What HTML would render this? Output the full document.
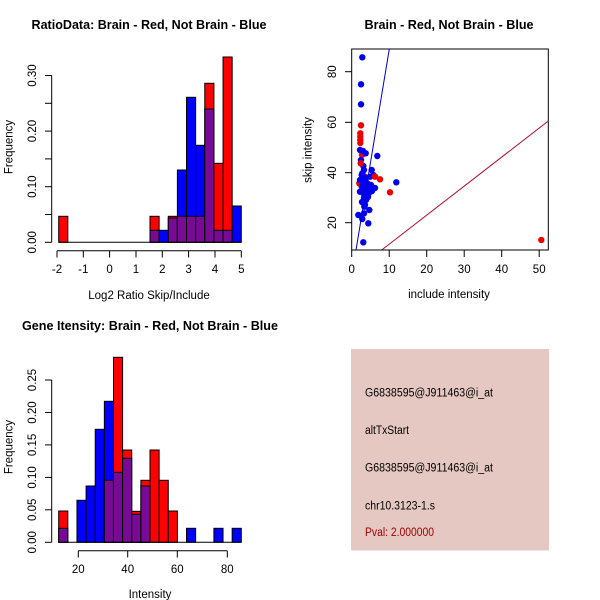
<!DOCTYPE html>
<html><head><meta charset="utf-8"><style>
html,body{margin:0;padding:0;background:#fff}
svg{display:block}
text{font-family:"Liberation Sans",Arial,sans-serif;fill:#000}
.t{font-weight:bold;font-size:13px}
.k{font-size:11.5px}
.l{font-size:11.5px}
</style></head><body>
<svg width="600" height="600" viewBox="0 0 600 600" xmlns="http://www.w3.org/2000/svg">
<rect width="600" height="600" fill="#fff"/>

<!-- ========== Top-left histogram ========== -->
<text class="t" x="149" y="29" text-anchor="middle" textLength="235" lengthAdjust="spacingAndGlyphs">RatioData: Brain - Red, Not Brain - Blue</text>
<g stroke="#000" stroke-width="1">
<!-- bin0 -->
<rect x="58.7" y="216.3" width="9.13" height="26" fill="#ff0000"/>
<!-- bin10 -->
<rect x="150" y="216.3" width="9.13" height="26" fill="#ff0000"/>
<rect x="150" y="230.3" width="9.13" height="12" fill="#780a96"/>
<!-- bin11 -->
<rect x="159.13" y="230.3" width="9.13" height="12" fill="#0000ff"/>
<!-- bin12 -->
<rect x="168.26" y="216.3" width="9.13" height="26" fill="#ff0000"/>
<rect x="168.26" y="218" width="9.13" height="24.3" fill="#780a96"/>
<!-- bin13 -->
<rect x="177.39" y="170" width="9.13" height="72.3" fill="#0000ff"/>
<rect x="177.39" y="216.3" width="9.13" height="26" fill="#780a96"/>
<!-- bin14 -->
<rect x="186.52" y="97.3" width="9.13" height="145" fill="#0000ff"/>
<rect x="186.52" y="216.3" width="9.13" height="26" fill="#780a96"/>
<!-- bin15 -->
<rect x="195.65" y="145.3" width="9.13" height="97" fill="#0000ff"/>
<rect x="195.65" y="216.3" width="9.13" height="26" fill="#780a96"/>
<!-- bin16 -->
<rect x="204.78" y="83.3" width="9.13" height="159" fill="#ff0000"/>
<rect x="204.78" y="109" width="9.13" height="133.3" fill="#780a96"/>
<!-- bin17 -->
<rect x="213.91" y="163.3" width="9.13" height="79" fill="#ff0000"/>
<rect x="213.91" y="230.3" width="9.13" height="12" fill="#780a96"/>
<!-- bin18 -->
<rect x="223.04" y="57" width="9.13" height="185.3" fill="#ff0000"/>
<rect x="223.04" y="230.3" width="9.13" height="12" fill="#780a96"/>
<!-- bin19 -->
<rect x="232.17" y="206" width="9.13" height="36.3" fill="#0000ff"/>
</g>
<line x1="58.7" y1="242.3" x2="241.3" y2="242.3" stroke="#000"/>
<g stroke="#000" stroke-width="1" fill="none">
<line x1="51.7" y1="242.3" x2="51.7" y2="75.5"/>
<line x1="45" y1="242.3" x2="51.7" y2="242.3"/>
<line x1="45" y1="214.5" x2="51.7" y2="214.5"/>
<line x1="45" y1="186.7" x2="51.7" y2="186.7"/>
<line x1="45" y1="158.9" x2="51.7" y2="158.9"/>
<line x1="45" y1="131.1" x2="51.7" y2="131.1"/>
<line x1="45" y1="103.3" x2="51.7" y2="103.3"/>
<line x1="45" y1="75.5" x2="51.7" y2="75.5"/>
<line x1="57" y1="250.7" x2="241.3" y2="250.7"/>
<line x1="57" y1="250.7" x2="57" y2="257.5"/>
<line x1="83.3" y1="250.7" x2="83.3" y2="257.5"/>
<line x1="109.6" y1="250.7" x2="109.6" y2="257.5"/>
<line x1="136" y1="250.7" x2="136" y2="257.5"/>
<line x1="162.3" y1="250.7" x2="162.3" y2="257.5"/>
<line x1="188.6" y1="250.7" x2="188.6" y2="257.5"/>
<line x1="215" y1="250.7" x2="215" y2="257.5"/>
<line x1="241.3" y1="250.7" x2="241.3" y2="257.5"/>
</g>
<g class="k" text-anchor="middle">
<text x="57" y="273">-2</text><text x="83.3" y="273">-1</text><text x="109.6" y="273">0</text>
<text x="136" y="273">1</text><text x="162.3" y="273">2</text><text x="188.6" y="273">3</text>
<text x="215" y="273">4</text><text x="241.3" y="273">5</text>
</g>
<g class="k" text-anchor="middle">
<text transform="translate(36,242.3) rotate(-90)">0.00</text>
<text transform="translate(36,186.7) rotate(-90)">0.10</text>
<text transform="translate(36,131.1) rotate(-90)">0.20</text>
<text transform="translate(36,75.5) rotate(-90)">0.30</text>
</g>
<text class="l" text-anchor="middle" x="149" y="299">Log2 Ratio Skip/Include</text>
<text class="l" text-anchor="middle" transform="translate(12.5,147) rotate(-90)">Frequency</text>

<!-- ========== Top-right scatter ========== -->
<text class="t" x="449" y="29" text-anchor="middle" textLength="169" lengthAdjust="spacingAndGlyphs">Brain - Red, Not Brain - Blue</text>
<rect x="351.7" y="49" width="196.6" height="201" fill="none" stroke="#000"/>
<g fill="#ee0000">
<circle cx="361" cy="125.3" r="3.2"/><circle cx="360.3" cy="133.3" r="3.2"/>
<circle cx="360.3" cy="136.7" r="3.2"/><circle cx="360.3" cy="140" r="3.2"/>
<circle cx="360.3" cy="143" r="3.2"/><circle cx="362" cy="155" r="3.2"/>
<circle cx="359.3" cy="183.3" r="3.2"/><circle cx="365" cy="176.7" r="3.2"/>
<circle cx="361.7" cy="186.7" r="3.2"/><circle cx="364" cy="178" r="3.2"/>
</g>
<g fill="#0000ee">
<circle cx="362.3" cy="57.3" r="3.2"/><circle cx="361" cy="84.3" r="3.2"/>
<circle cx="361" cy="104.3" r="3.2"/><circle cx="360" cy="150" r="3.2"/>
<circle cx="363" cy="151" r="3.2"/><circle cx="365.7" cy="153.3" r="3.2"/>
<circle cx="377.3" cy="156" r="3.2"/><circle cx="363.3" cy="166" r="3.2"/>
<circle cx="371.7" cy="170" r="3.2"/><circle cx="373.3" cy="175" r="3.2"/>
<circle cx="361.7" cy="175" r="3.2"/><circle cx="362.3" cy="173.3" r="3.2"/>
<circle cx="370" cy="176.7" r="3.2"/><circle cx="396.3" cy="182.3" r="3.2"/>
<circle cx="364" cy="180" r="3.2"/><circle cx="366" cy="182" r="3.2"/>
<circle cx="368" cy="184" r="3.2"/><circle cx="362" cy="186" r="3.2"/>
<circle cx="365" cy="188" r="3.2"/><circle cx="370" cy="189" r="3.2"/>
<circle cx="367" cy="191" r="3.2"/><circle cx="360" cy="191.7" r="3.2"/>
<circle cx="363" cy="193" r="3.2"/><circle cx="366" cy="195" r="3.2"/>
<circle cx="369" cy="193" r="3.2"/><circle cx="372" cy="191" r="3.2"/>
<circle cx="364" cy="198" r="3.2"/><circle cx="366" cy="200" r="3.2"/>
<circle cx="362" cy="202" r="3.2"/><circle cx="365" cy="205" r="3.2"/>
<circle cx="364.3" cy="206.7" r="3.2"/><circle cx="369.3" cy="210" r="3.2"/>
<circle cx="364" cy="213.3" r="3.2"/><circle cx="358.3" cy="215" r="3.2"/>
<circle cx="362.3" cy="219" r="3.2"/><circle cx="368.3" cy="223.3" r="3.2"/>
<circle cx="363.3" cy="242.3" r="3.2"/><circle cx="361" cy="160" r="3.2"/>
<circle cx="364" cy="170" r="3.2"/><circle cx="366" cy="178" r="3.2"/>
<circle cx="360" cy="180" r="3.2"/><circle cx="371" cy="185" r="3.2"/>
<circle cx="375" cy="188" r="3.2"/><circle cx="368" cy="197" r="3.2"/>
</g>
<g fill="#ee0000">
<circle cx="360.7" cy="163.3" r="3.2"/><circle cx="375" cy="176.7" r="3.2"/>
<circle cx="380" cy="179.3" r="3.2"/><circle cx="390" cy="192.3" r="3.2"/>
<circle cx="541.3" cy="240" r="3.2"/>
</g>
<line x1="356" y1="250" x2="389.3" y2="49" stroke="#0000cc" stroke-width="1"/>
<line x1="381.7" y1="250" x2="548.3" y2="121" stroke="#b01030" stroke-width="1"/>
<g stroke="#000" fill="none">
<line x1="351.7" y1="250" x2="539.2" y2="250"/>
<line x1="351.7" y1="250" x2="351.7" y2="257"/>
<line x1="389.2" y1="250" x2="389.2" y2="257"/>
<line x1="426.7" y1="250" x2="426.7" y2="257"/>
<line x1="464.2" y1="250" x2="464.2" y2="257"/>
<line x1="501.7" y1="250" x2="501.7" y2="257"/>
<line x1="539.2" y1="250" x2="539.2" y2="257"/>
<line x1="345" y1="222.7" x2="351.7" y2="222.7"/>
<line x1="345" y1="172.7" x2="351.7" y2="172.7"/>
<line x1="345" y1="122.3" x2="351.7" y2="122.3"/>
<line x1="345" y1="71.7" x2="351.7" y2="71.7"/>
</g>
<g class="k" text-anchor="middle">
<text x="351.7" y="273">0</text><text x="389.2" y="273">10</text><text x="426.7" y="273">20</text>
<text x="464.2" y="273">30</text><text x="501.7" y="273">40</text><text x="539.2" y="273">50</text>
<text transform="translate(336,222.7) rotate(-90)">20</text>
<text transform="translate(336,172.7) rotate(-90)">40</text>
<text transform="translate(336,122.3) rotate(-90)">60</text>
<text transform="translate(336,71.7) rotate(-90)">80</text>
</g>
<text class="l" text-anchor="middle" x="449" y="298">include intensity</text>
<text class="l" text-anchor="middle" transform="translate(311.5,150) rotate(-90)">skip intensity</text>

<!-- ========== Bottom-left histogram ========== -->
<text class="t" x="150" y="330" text-anchor="middle" textLength="256" lengthAdjust="spacingAndGlyphs">Gene Itensity: Brain - Red, Not Brain - Blue</text>
<g stroke="#000" stroke-width="1">
<rect x="58.7" y="511" width="9.13" height="31.3" fill="#ff0000"/>
<rect x="58.7" y="528.3" width="9.13" height="14" fill="#780a96"/>
<rect x="76.96" y="500.3" width="9.13" height="42" fill="#0000ff"/>
<rect x="86.09" y="486" width="9.13" height="56.3" fill="#0000ff"/>
<rect x="95.22" y="429.3" width="9.13" height="113" fill="#0000ff"/>
<rect x="104.35" y="401.3" width="9.13" height="141" fill="#0000ff"/>
<rect x="104.35" y="480.3" width="9.13" height="62" fill="#780a96"/>
<rect x="113.48" y="357.3" width="9.13" height="185" fill="#ff0000"/>
<rect x="113.48" y="472.3" width="9.13" height="70" fill="#780a96"/>
<rect x="122.61" y="450" width="9.13" height="92.3" fill="#ff0000"/>
<rect x="122.61" y="458.3" width="9.13" height="84" fill="#780a96"/>
<rect x="131.74" y="511.3" width="9.13" height="31" fill="#ff0000"/>
<rect x="131.74" y="514.3" width="9.13" height="28" fill="#780a96"/>
<rect x="140.87" y="480.3" width="9.13" height="62" fill="#ff0000"/>
<rect x="140.87" y="486" width="9.13" height="56.3" fill="#780a96"/>
<rect x="150" y="450" width="9.13" height="92.3" fill="#ff0000"/>
<rect x="159.13" y="480.3" width="9.13" height="62" fill="#ff0000"/>
<rect x="168.26" y="511" width="9.13" height="31.3" fill="#ff0000"/>
<rect x="186.52" y="528.3" width="9.13" height="14" fill="#0000ff"/>
<rect x="213.91" y="528.3" width="9.13" height="14" fill="#0000ff"/>
<rect x="232.17" y="528.3" width="9.13" height="14" fill="#0000ff"/>
</g>
<line x1="58.7" y1="542.3" x2="241.3" y2="542.3" stroke="#000"/>
<g stroke="#000" fill="none">
<line x1="51.7" y1="542.3" x2="51.7" y2="380"/>
<line x1="45" y1="542.3" x2="51.7" y2="542.3"/>
<line x1="45" y1="509.8" x2="51.7" y2="509.8"/>
<line x1="45" y1="477.4" x2="51.7" y2="477.4"/>
<line x1="45" y1="444.9" x2="51.7" y2="444.9"/>
<line x1="45" y1="412.5" x2="51.7" y2="412.5"/>
<line x1="45" y1="380" x2="51.7" y2="380"/>
<line x1="78.3" y1="550.7" x2="227.3" y2="550.7"/>
<line x1="78.3" y1="550.7" x2="78.3" y2="557.5"/>
<line x1="127.7" y1="550.7" x2="127.7" y2="557.5"/>
<line x1="177.3" y1="550.7" x2="177.3" y2="557.5"/>
<line x1="227.3" y1="550.7" x2="227.3" y2="557.5"/>
</g>
<g class="k" text-anchor="middle">
<text x="78.3" y="573">20</text><text x="127.7" y="573">40</text>
<text x="177.3" y="573">60</text><text x="227.3" y="573">80</text>
<text transform="translate(36,542.3) rotate(-90)">0.00</text>
<text transform="translate(36,509.8) rotate(-90)">0.05</text>
<text transform="translate(36,477.4) rotate(-90)">0.10</text>
<text transform="translate(36,444.9) rotate(-90)">0.15</text>
<text transform="translate(36,412.5) rotate(-90)">0.20</text>
<text transform="translate(36,380) rotate(-90)">0.25</text>
</g>
<text class="l" text-anchor="middle" x="150" y="598">Intensity</text>
<text class="l" text-anchor="middle" transform="translate(12.5,447) rotate(-90)">Frequency</text>

<!-- ========== Bottom-right info box ========== -->
<rect x="351" y="349" width="198" height="201.5" fill="#e6c8c2"/>
<g font-size="11.5px">
<text x="365" y="396.5" textLength="128" lengthAdjust="spacingAndGlyphs">G6838595@J911463@i_at</text>
<text x="365" y="434" textLength="44" lengthAdjust="spacingAndGlyphs">altTxStart</text>
<text x="365" y="471.5" textLength="128" lengthAdjust="spacingAndGlyphs">G6838595@J911463@i_at</text>
<text x="365" y="509.5" textLength="70" lengthAdjust="spacingAndGlyphs">chr10.3123-1.s</text>
<text x="365" y="536" textLength="69" lengthAdjust="spacingAndGlyphs" style="fill:#a00000">Pval: 2.000000</text>
</g>
</svg>
</body></html>
